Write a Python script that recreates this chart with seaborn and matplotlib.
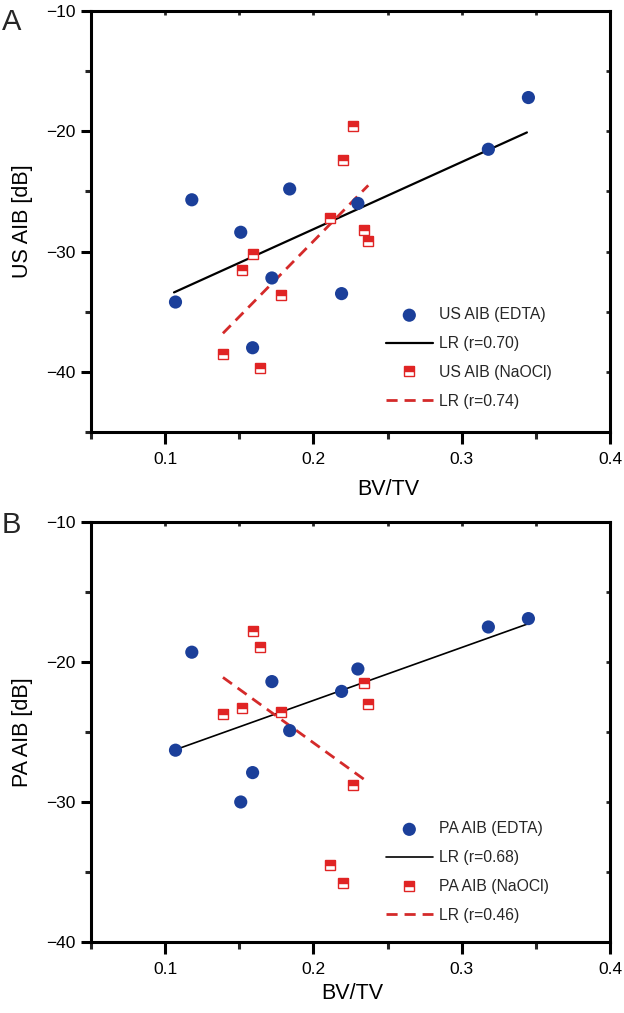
import numpy as np
import matplotlib
matplotlib.use("Agg")
import matplotlib.pyplot as plt
from matplotlib.ticker import MultipleLocator
import seaborn as sns

# values
edta_bvtv = [0.107, 0.118, 0.151, 0.184, 0.172, 0.159, 0.219, 0.230, 0.318, 0.345]
naocl_bvtv = [0.159, 0.152, 0.178, 0.139, 0.164, 0.227, 0.220, 0.211, 0.234, 0.237]

us_edta = [-34.2, -25.7, -28.4, -24.8, -32.2, -38.0, -33.5, -26.0, -21.5, -17.2]
us_naocl = [-30.2, -31.5, -33.6, -38.5, -39.7, -19.6, -22.4, -27.2, -28.2, -29.1]

pa_edta = [-26.3, -19.3, -30.0, -24.9, -21.4, -27.9, -22.1, -20.5, -17.5, -16.9]
pa_naocl = [-17.8, -23.3, -23.6, -23.7, -18.9, -28.8, -35.8, -34.5, -21.5, -23.0]

# regression lines (end points)
us_lr_edta_x = [0.106, 0.344]
us_lr_edta_y = [-33.4, -20.1]
us_lr_naocl_x = [0.139, 0.237]
us_lr_naocl_y = [-36.8, -24.5]

pa_lr_edta_x = [0.106, 0.344]
pa_lr_edta_y = [-26.3, -17.3]
pa_lr_naocl_x = [0.139, 0.237]
pa_lr_naocl_y = [-21.1, -28.6]

BLUE = "#1b3f9a"
RED = "#e02424"

sns.set_theme(style="white")
plt.rcParams["font.family"] = ["Liberation Sans", "DejaVu Sans"]
plt.rcParams["axes.unicode_minus"] = True

fig = plt.figure(figsize=(6.24, 10.13), dpi=100)


def panel(rect, ylo, prefix, e_y, n_y, lrx1, lry1, lrx2, lry2, r1, r2, lw1,
          xlab_pos, leg_y):
    ax = fig.add_axes(rect)
    sns.scatterplot(x=edta_bvtv, y=e_y, color=BLUE, s=90, edgecolor="none",
                    label=f"{prefix} AIB (EDTA)", ax=ax, zorder=3)
    sns.lineplot(x=lrx1, y=lry1, color="black", lw=lw1, label=f"LR (r={r1})",
                 ax=ax, sort=False, estimator=None, zorder=2)
    sns.lineplot(x=naocl_bvtv, y=n_y, marker="s", linestyle="none", markersize=7.5,
                 fillstyle="top", color=RED, markerfacecolor=RED,
                 markerfacecoloralt="white", markeredgecolor=RED, markeredgewidth=1.0,
                 label=f"{prefix} AIB (NaOCl)", ax=ax, sort=False, estimator=None, zorder=3)
    sns.lineplot(x=lrx2, y=lry2, color="#d42a2a", lw=2.0, linestyle=(0, (4, 2.5)),
                 label=f"LR (r={r2})", ax=ax, sort=False, estimator=None, zorder=2)

    ax.set_xlim(0.05, 0.4)
    ax.set_ylim(ylo, -10)
    ax.xaxis.set_minor_locator(MultipleLocator(0.05))
    ax.yaxis.set_major_locator(MultipleLocator(10))
    ax.yaxis.set_minor_locator(MultipleLocator(5))
    ax.set_xticks([0.1, 0.2, 0.3, 0.4])
    ax.set_xticklabels(["0.1", "0.2", "0.3", "0.4"])

    for sp in ax.spines.values():
        sp.set_linewidth(2.2)
        sp.set_color("black")

    ax.tick_params(axis="x", which="major", direction="out", length=8.5, width=2.2,
                   pad=6, labelsize=12.5, bottom=True, colors="black")
    ax.tick_params(axis="x", which="minor", direction="out", length=5, width=2.2, bottom=True)
    ax.tick_params(axis="y", which="major", direction="out", length=7, width=2.2,
                   pad=4, labelsize=12.5, left=True, colors="black")
    ax.tick_params(axis="y", which="minor", direction="out", length=4, width=2.2, left=True)

    top = ax.secondary_xaxis("top")
    top.xaxis.set_major_locator(MultipleLocator(0.05))
    top.tick_params(direction="in", length=3, width=2, labeltop=False)
    right = ax.secondary_yaxis("right")
    right.yaxis.set_major_locator(MultipleLocator(5))
    right.tick_params(direction="in", length=3, width=2, labelright=False)

    ax.set_xlabel("BV/TV", fontsize=15.5, color="black")
    ax.xaxis.set_label_coords(*xlab_pos)
    ax.set_ylabel(f"{prefix} AIB [dB]", fontsize=15.5, color="black")
    ax.yaxis.set_label_coords(-0.112, 0.5)

    ax.legend(loc="upper left", bbox_to_anchor=(0.568, leg_y), frameon=False,
              fontsize=11.3, handlelength=3.0, handletextpad=0.4, labelspacing=0.88,
              borderpad=0, borderaxespad=0, scatterpoints=1, numpoints=1)
    return ax


axA = panel([0.1458, 0.5736, 0.8317, 0.4156], -45, "US", us_edta, us_naocl,
            us_lr_edta_x, us_lr_edta_y, us_lr_naocl_x, us_lr_naocl_y,
            "0.70", "0.74", 1.6, (0.572, -0.112), 0.296)
axB = panel([0.1458, 0.0701, 0.8317, 0.4146], -40, "PA", pa_edta, pa_naocl,
            pa_lr_edta_x, pa_lr_edta_y, pa_lr_naocl_x, pa_lr_naocl_y,
            "0.68", "0.46", 1.2, (0.503, -0.097), 0.287)

fig.text(0.003, 1 - 8 / 1013, "A", fontsize=21, va="top", ha="left")
fig.text(0.003, 1 - 511 / 1013, "B", fontsize=21, va="top", ha="left")

fig.savefig("out.png", dpi=100, facecolor="white")
